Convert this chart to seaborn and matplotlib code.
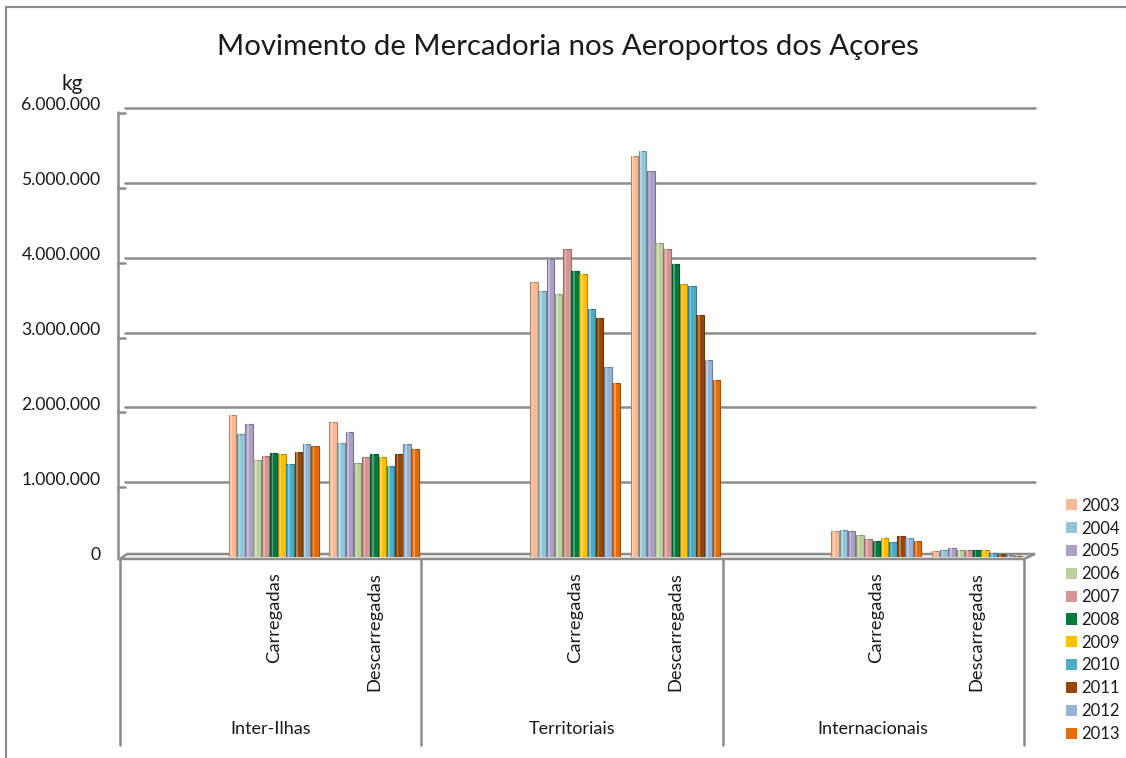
import numpy as np
import pandas as pd
import seaborn as sns
import matplotlib
import matplotlib.pyplot as plt
import matplotlib.colors as mcolors
import matplotlib.transforms as mtransforms
from matplotlib.lines import Line2D
from matplotlib.patches import Rectangle, Polygon

matplotlib.use("Agg")

# Dados (kg)
anos = ["2003", "2004", "2005", "2006", "2007", "2008",
        "2009", "2010", "2011", "2012", "2013"]
grupos = ["Inter-Ilhas", "Territoriais", "Internacionais"]
tipos = ["Carregadas", "Descarregadas"]

inter_carregadas = [1900000, 1650000, 1780000, 1290000, 1350000, 1390000,
                    1380000, 1240000, 1400000, 1510000, 1480000]
inter_descarregadas = [1800000, 1530000, 1670000, 1260000, 1330000, 1380000,
                       1330000, 1210000, 1380000, 1510000, 1440000]
terr_carregadas = [3670000, 3560000, 3980000, 3510000, 4110000, 3820000,
                   3780000, 3310000, 3200000, 2540000, 2330000]
terr_descarregadas = [5360000, 5420000, 5160000, 4190000, 4110000, 3910000,
                      3650000, 3620000, 3240000, 2630000, 2360000]
intl_carregadas = [350000, 360000, 350000, 290000, 240000, 210000,
                   250000, 200000, 280000, 260000, 220000]
intl_descarregadas = [80000, 100000, 120000, 100000, 90000, 90000,
                      100000, 50000, 40000, 30000, 20000]

cores = ["#F9B994", "#92C5D6", "#ACA0C6", "#BCD09B", "#D69595", "#007A3D",
         "#FFC000", "#4BACC6", "#974806", "#95B3D7", "#E46C0A"]

y_ticks = [0, 1000000, 2000000, 3000000, 4000000, 5000000, 6000000]

# Tabela longa para o seaborn (cada grupo tem uma coluna vazia à esquerda)
series = {
    ("Inter-Ilhas", "Carregadas"): inter_carregadas,
    ("Inter-Ilhas", "Descarregadas"): inter_descarregadas,
    ("Territoriais", "Carregadas"): terr_carregadas,
    ("Territoriais", "Descarregadas"): terr_descarregadas,
    ("Internacionais", "Carregadas"): intl_carregadas,
    ("Internacionais", "Descarregadas"): intl_descarregadas,
}
linhas = []
for (g, t), vals in series.items():
    for ano, v in zip(anos, vals):
        linhas.append({"slot": f"{g}|{t}", "ano": ano, "kg": v})
df = pd.DataFrame(linhas)

ordem = []
for g in grupos:
    ordem.append(f"{g}|")
    for t in tipos:
        ordem.append(f"{g}|{t}")

W, H = 1126, 758
sns.set_style("white")
plt.rcParams["font.family"] = ["Lato", "DejaVu Sans"]
TXT = "#1a1a1a"
GRID = "#8c8c8c"

fig = plt.figure(figsize=(W / 100, H / 100), dpi=100)
ax = fig.add_axes([120 / W, (H - 557) / H, (1024 - 120) / W, (557 - 108) / H])

sns.barplot(data=df, x="slot", y="kg", hue="ano", order=ordem, hue_order=anos,
            palette=cores, saturation=1, width=0.9, gap=0.08, ax=ax,
            linewidth=0.8, zorder=3)

# aspeto de cilindro: contorno mais escuro e um reflexo claro
for p in list(ax.patches):
    fc = np.array(mcolors.to_rgb(p.get_facecolor()))
    p.set_edgecolor(tuple(fc * 0.72))
    x0, w, h = p.get_x(), p.get_width(), p.get_height()
    if h > 0:
        ax.add_patch(Rectangle((x0 + w * 0.22, 0), w * 0.22, h,
                               facecolor=tuple(fc + (1 - fc) * 0.3),
                               edgecolor="none", zorder=3.5))

ax.set_xlim(-0.53, 8.47)
ax.set_ylim(0, 6000000)
ax.set_xlabel("")
ax.set_ylabel("")
ax.set_xticks([])
ax.set_yticks(y_ticks)
ax.set_yticklabels([f"{v:,}".replace(",", ".") for v in y_ticks])
ax.tick_params(axis="y", length=0, pad=14, labelsize=12.6, labelcolor=TXT)
subir = mtransforms.ScaledTranslation(0, 4 / 100, fig.dpi_scale_trans)
for lbl in ax.get_yticklabels():
    lbl.set_transform(lbl.get_transform() + subir)
for s in ax.spines.values():
    s.set_visible(False)
ax.legend_.remove()

pix = mtransforms.IdentityTransform()
ypix = mtransforms.blended_transform_factory(pix, ax.transData)
xdata = mtransforms.blended_transform_factory(ax.transData, pix)

# linhas de grelha com a aresta da parede lateral
off = mtransforms.offset_copy(ypix, fig=fig, y=-5, units="dots")
for v in y_ticks[1:]:
    ax.add_line(Line2D([118, 125], [v, v], transform=off, color=GRID, lw=1.8,
                       clip_on=False))
    ax.add_line(Line2D([125, 1035], [v, v], transform=ypix, color=GRID, lw=1.8,
                       clip_on=False, zorder=1))
# parede esquerda
ax.add_line(Line2D([118, 118], [H - 112, H - 559], transform=pix, color=GRID,
                   lw=1.8, clip_on=False))
# chão
chao = Polygon([(120, H - 559), (127, H - 554), (1035, H - 554), (1024, H - 559)],
               closed=True, transform=pix, facecolor="#f2f2f2", edgecolor=GRID,
               lw=1.8, clip_on=False, zorder=2)
ax.add_patch(chao)

# separadores dos grupos e rótulos do eixo x
for k in [0, 3, 6, 9]:
    ax.add_line(Line2D([k - 0.53, k - 0.53], [H - 560, H - 745], transform=xdata,
                       color=GRID, lw=1.8, clip_on=False))
for i, g in enumerate(grupos):
    ax.text(3 * i + 1 - 0.03, H - 729, g, transform=xdata, ha="center",
            va="center", fontsize=13, color=TXT)
    for j, t in enumerate(tipos):
        ax.text(3 * i + 1 + j, H - 572, t, transform=xdata, ha="center",
                va="top", rotation=90, fontsize=13.2, color=TXT)

# legenda
handles = [Rectangle((0, 0), 1, 1, facecolor=c, edgecolor="none") for c in cores]
fig.legend(handles, anos, loc="upper left",
           bbox_to_anchor=(1059 / W, (H - 491) / H), frameon=False,
           fontsize=12, handlelength=0.66, handleheight=0.66,
           handletextpad=0.25, labelspacing=0.41, borderaxespad=0,
           labelcolor=TXT)

fig.text(568 / W, (H - 47) / H, "Movimento de Mercadoria nos Aeroportos dos Açores",
         ha="center", va="center", fontsize=21.2, color=TXT)
fig.text(72 / W, (H - 84) / H, "kg", ha="center", va="center", fontsize=15,
         color=TXT)

# moldura do gráfico
fig.add_artist(Rectangle((6 / W, -0.05), 1.1, (H - 7) / H + 0.05,
                         transform=fig.transFigure, facecolor="none",
                         edgecolor="#8a8a8a", lw=1.5))

fig.savefig("out.png", dpi=100)
